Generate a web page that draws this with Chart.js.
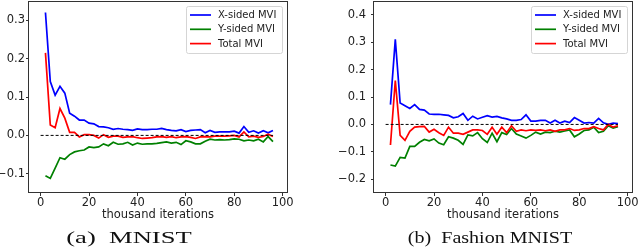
<!DOCTYPE html>
<html>
<head>
<meta charset="utf-8">
<script src="https://cdn.jsdelivr.net/npm/chart.js@4.4.0/dist/chart.umd.min.js"></script>
<style>
  body { margin: 0; background: #fff; width: 640px; height: 248px; overflow: hidden; position: relative; }
  canvas { position: absolute; top: 0; }
  #c1 { left: 0; }
  #c2 { left: 320px; }
  .cap { position: absolute; top: 228px; font-family: "Liberation Serif", serif; font-size: 17px; white-space: nowrap; color: #111; transform-origin: center; }
</style>
</head>
<body>
<canvas id="c1" width="320" height="230"></canvas>
<canvas id="c2" width="320" height="230"></canvas>
<div class="cap" id="cap1" style="left:129px">(a)&nbsp;&nbsp;MNIST</div>
<div class="cap" id="cap2" style="left:490px">(b)&nbsp;&nbsp;Fashion MNIST</div>
<script>
// x values (thousand iterations)
var iters = [2, 4, 6, 8, 10, 12, 14, 16, 18, 20, 22, 24, 26, 28, 30, 32, 34, 36, 38, 40, 42, 44, 46, 48,
             50, 52, 54, 56, 58, 60, 62, 64, 66, 68, 70, 72, 74, 76, 78, 80, 82, 84, 86, 88, 90, 92, 94, 96];

// (a) MNIST
var mnistXSided = [0.32, 0.14, 0.105, 0.128, 0.11, 0.058, 0.05, 0.04, 0.04, 0.032, 0.03, 0.023, 0.022, 0.02, 0.016, 0.018,
                   0.016, 0.015, 0.013, 0.017, 0.015, 0.015, 0.016, 0.016, 0.018, 0.015, 0.013, 0.012, 0.015, 0.01, 0.013, 0.014,
                   0.015, 0.007, 0.013, 0.008, 0.009, 0.009, 0.009, 0.011, 0.006, 0.023, 0.008, 0.012, 0.006, 0.012, 0.007, 0.013];
var mnistYSided = [-0.105, -0.112, -0.085, -0.058, -0.062, -0.05, -0.043, -0.04, -0.038, -0.03, -0.032, -0.03, -0.022, -0.027, -0.018, -0.023,
                   -0.022, -0.018, -0.025, -0.02, -0.023, -0.022, -0.022, -0.021, -0.019, -0.017, -0.02, -0.018, -0.024, -0.014, -0.017, -0.022,
                   -0.022, -0.015, -0.01, -0.012, -0.011, -0.012, -0.011, -0.009, -0.01, -0.014, -0.012, -0.014, -0.01, -0.017, -0.003, -0.016];
var mnistTotal = [0.215, 0.027, 0.02, 0.07, 0.045, 0.008, 0.008, -0.004, 0.002, 0.002, 0.0, -0.007, 0.002, -0.005, -0.002, -0.002,
                  -0.005, -0.004, -0.003, -0.006, -0.008, -0.007, -0.006, -0.004, -0.003, -0.005, -0.003, -0.006, -0.004, -0.003, -0.005, -0.008,
                  -0.004, -0.003, -0.004, -0.002, -0.002, -0.002, -0.001, 0.0, -0.004, 0.009, -0.004, -0.002, -0.005, -0.003, 0.003, -0.003];

// (b) Fashion MNIST
var fashionXSided = [0.072, 0.31, 0.078, 0.068, 0.058, 0.072, 0.055, 0.052, 0.038, 0.037, 0.037, 0.035, 0.033, 0.024, 0.028, 0.04,
                     0.015, 0.03, 0.02, 0.026, 0.032, 0.027, 0.029, 0.024, 0.02, 0.015, 0.015, 0.018, 0.035, 0.012, 0.012, 0.015,
                     0.015, 0.005, 0.015, 0.005, 0.012, 0.007, 0.025, 0.015, 0.005, 0.007, 0.005, 0.022, 0.006, 0.0, 0.005, 0.003];
var fashionYSided = [-0.148, -0.152, -0.12, -0.123, -0.08, -0.08, -0.065, -0.055, -0.06, -0.053, -0.068, -0.074, -0.045, -0.05, -0.058, -0.073,
                     -0.038, -0.042, -0.03, -0.052, -0.066, -0.032, -0.063, -0.03, -0.037, -0.015, -0.035, -0.042, -0.05, -0.04, -0.028, -0.035,
                     -0.028, -0.03, -0.025, -0.028, -0.024, -0.02, -0.045, -0.035, -0.022, -0.02, -0.01, -0.03, -0.025, -0.005, -0.013, -0.008];
var fashionTotal = [-0.075, 0.16, -0.04, -0.058, -0.025, -0.01, -0.008, -0.007, -0.028, -0.018, -0.03, -0.04, -0.01, -0.032, -0.032, -0.036,
                    -0.028, -0.02, -0.02, -0.022, -0.036, -0.01, -0.036, -0.01, -0.03, -0.005, -0.025, -0.02, -0.023, -0.02, -0.022, -0.02,
                    -0.023, -0.02, -0.025, -0.02, -0.02, -0.015, -0.022, -0.02, -0.015, -0.015, -0.008, -0.015, -0.02, 0.0, -0.01, -0.005];

// dashed zero reference line
var zeroX = [0, 96];
var zeroY = [0, 0];

var xTicks = [0, 20, 40, 60, 80, 100];
var mnistYTicks = [-0.1, 0.0, 0.1, 0.2, 0.3];
var fashionYTicks = [-0.2, -0.1, 0.0, 0.1, 0.2, 0.3, 0.4];
var seriesLabels = ['X-sided MVI', 'Y-sided MVI', 'Total MVI'];
var seriesColors = ['#0000ff', '#008000', '#ff0000'];

function toPoints(xs, ys) {
    return xs.map(function (x, i) { return { x: x, y: ys[i] }; });
}

function fmt(v) {
    var s = (Math.round(v * 10) / 10).toFixed(1);
    return s.replace('-', '\u2212');
}

// box around the plot area
var framePlugin = {
    id: 'frame',
    afterDraw: function (chart) {
        var a = chart.chartArea, ctx = chart.ctx;
        ctx.save();
        ctx.strokeStyle = '#333';
        ctx.lineWidth = 1;
        ctx.strokeRect(Math.round(a.left) - 0.5, Math.round(a.top) + 0.5,
                       Math.round(a.right - a.left) + 1, Math.round(a.bottom - a.top) - 1);
        ctx.restore();
    }
};

// matplotlib-style legend in the upper right corner
var legendPlugin = {
    id: 'boxLegend',
    afterDraw: function (chart) {
        var a = chart.chartArea, ctx = chart.ctx;
        var w = 96, h = 47;
        var x0 = Math.round(a.right - 5.5 - w), y0 = Math.round(a.top + 5);
        ctx.save();
        ctx.fillStyle = 'rgba(255,255,255,0.8)';
        ctx.strokeStyle = '#d5d5d5';
        ctx.lineWidth = 1;
        ctx.beginPath();
        ctx.roundRect(x0 + 0.5, y0 + 0.5, w, h, 2);
        ctx.fill();
        ctx.stroke();
        ctx.font = '10px "DejaVu Sans"';
        ctx.textBaseline = 'middle';
        chart.data.datasets.forEach(function (ds, i) {
            if (!ds.label) return;
            var y = y0 + 9 + i * 14.3;
            ctx.strokeStyle = ds.borderColor;
            ctx.lineWidth = 1.7;
            ctx.beginPath();
            ctx.moveTo(x0 + 4, y);
            ctx.lineTo(x0 + 25, y);
            ctx.stroke();
            ctx.fillStyle = '#222';
            ctx.fillText(ds.label, x0 + 32, y + 0.5);
        });
        ctx.restore();
    }
};

function makeChart(id, xs, ys, tot, yTicks, yMin, yMax, yWidth, padRight, yPad) {
    var ctx = document.getElementById(id).getContext('2d');
    var series = [xs, ys, tot];
    var datasets = series.map(function (s, i) {
        return {
            label: seriesLabels[i],
            data: toPoints(iters, s),
            borderColor: seriesColors[i],
            borderWidth: 1.7,
            pointRadius: 0,
            tension: 0,
            fill: false,
            order: 4 - i
        };
    });
    datasets.push({
        label: '',
        data: toPoints(zeroX, zeroY),
        borderColor: '#000',
        borderWidth: 1,
        borderDash: [3, 2],
        pointRadius: 0,
        fill: false,
        order: 0
    });
    return new Chart(ctx, {
        type: 'line',
        data: { datasets: datasets },
        options: {
            responsive: false,
            animation: false,
            devicePixelRatio: 1,
            layout: { padding: { top: 1, right: padRight, left: 0, bottom: 0 } },
            plugins: { legend: { display: false }, tooltip: { enabled: false } },
            scales: {
                x: {
                    type: 'linear',
                    min: -4.8,
                    max: 101.8,
                    afterBuildTicks: function (s) { s.ticks = xTicks.map(function (v) { return { value: v }; }); },
                    afterFit: function (s) { s.height = 37; s.paddingLeft = 0; s.paddingRight = 0; },
                    ticks: {
                        font: { family: 'DejaVu Sans', size: 11.5 },
                        color: '#222',
                        padding: 0,
                        maxRotation: 0,
                        autoSkip: false,
                        callback: function (v) { return String(v); }
                    },
                    grid: { drawOnChartArea: false, drawTicks: true, tickLength: 3, color: '#333' },
                    border: { display: false },
                    title: {
                        display: true,
                        text: 'thousand iterations',
                        font: { family: 'DejaVu Sans', size: 11.5 },
                        color: '#222',
                        padding: { top: 0, bottom: 8 }
                    }
                },
                y: {
                    type: 'linear',
                    min: yMin,
                    max: yMax,
                    afterBuildTicks: function (s) { s.ticks = yTicks.map(function (v) { return { value: v }; }); },
                    afterFit: function (s) { s.width = yWidth; s.paddingTop = 0; s.paddingBottom = 0; },
                    ticks: {
                        font: { family: 'DejaVu Sans', size: 11.5 },
                        color: '#222',
                        padding: yPad,
                        autoSkip: false,
                        callback: function (v) { return fmt(v); }
                    },
                    grid: { drawOnChartArea: false, drawTicks: true, tickLength: 3, color: '#333' },
                    border: { display: false }
                }
            }
        },
        plugins: [framePlugin, legendPlugin]
    });
}

makeChart('c1', mnistXSided, mnistYSided, mnistTotal, mnistYTicks, -0.15, 0.35, 29, 33, 1);
makeChart('c2', fashionXSided, fashionYSided, fashionTotal, fashionYTicks, -0.25, 0.45, 54, 8, 5);

// widen the captions to the width they have in the figure
[['cap1', 125], ['cap2', 164]].forEach(function (c) {
    var el = document.getElementById(c[0]);
    var k = c[1] / el.offsetWidth;
    el.style.transform = 'translateX(-50%) scaleX(' + k.toFixed(3) + ')';
});
</script>
</body>
</html>
